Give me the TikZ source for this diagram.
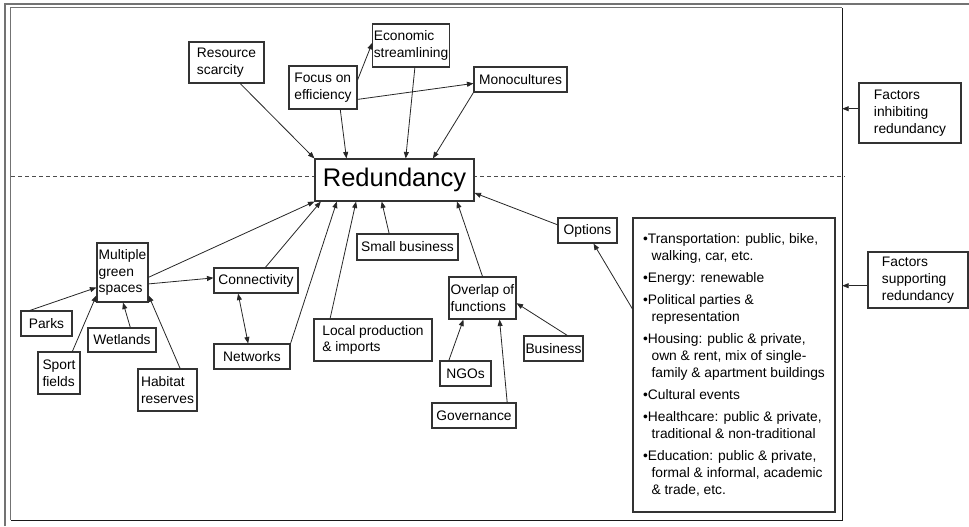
\documentclass[tikz,border=0pt]{standalone}
\usepackage{fontspec}
\setmainfont{Liberation Sans}
\usetikzlibrary{arrows.meta,calc}
\newcommand\listindent{\hspace*{8.5pt}}
\begin{document}
\begin{tikzpicture}[x=1pt,y=-1pt,
  font=\fontsize{13.8}{16.7}\selectfont,
  box/.style 2 args={draw=black!80, line width=1.1pt, fill=white,
    minimum width=#1pt, minimum height=#2pt, inner sep=1pt, align=left},
  arr/.style={draw=black!85, line width=0.8pt,
    -{Triangle[length=6.5pt,width=5pt]}},
  dbl/.style={draw=black!85, line width=0.8pt,
    {Triangle[length=6.5pt,width=5pt]}-{Triangle[length=6.5pt,width=5pt]}},
  litedge/.style={draw=black!55, line width=1.3pt},
  darkedge/.style={draw=black!90, line width=1.2pt},
  divider/.style={draw=black!70, line width=0.8pt, dash pattern=on 4pt off 3pt}
]
\useasboundingbox (0,0) rectangle (969,527);

% outer page edge
\draw[litedge] (5,526) -- (5,4) -- (969,4);

% main frame
\node[draw=none, minimum width=831pt, minimum height=512pt, inner sep=0pt] (frame) at (426.5,264) {};
\draw[litedge] (frame.south west) -- (frame.north west) -- (frame.north east);
\draw[darkedge] (frame.north east) -- (frame.south east) -- (frame.south west);

% boundary between inhibiting and supporting factors
\coordinate (divL) at (11,176);
\coordinate (divR) at (845,176);
\draw[divider] (divL) -- (divR);

% central concept
\node[box={159}{42}, font=\fontsize{25.5}{28}\selectfont, align=center] (red) at (394.5,180) {Redundancy};

% inhibiting factors
\node[box={75}{41}] (res) at (226.5,62.5) {Resource\\scarcity};
\node[box={76}{43}] (econ) at (411,45.5) {Economic\\streamlining};
\node[box={68}{43}] (focus) at (323,87.5) {Focus on\\efficiency};
\node[box={93}{25}] (mono) at (520.5,79.5) {Monocultures};

% supporting factors
\node[box={51}{59}] (green) at (122.5,272.5) {Multiple\\green\\spaces};
\node[box={51}{25}] (parks) at (46.5,323.5) {Parks};
\node[box={42}{42}] (sport) at (59,373) {Sport\\fields};
\node[box={68}{24}] (wet) at (122,340) {Wetlands};
\node[box={59}{42}] (hab) at (167.5,390) {Habitat\\reserves};
\node[box={84}{25}] (conn) at (256,280.5) {Connectivity};
\node[box={76}{25}] (net) at (252,356.5) {Networks};
\node[box={118}{42}] (local) at (373,340) {Local production\\\& imports};
\node[box={101}{26}] (small) at (407.5,247) {Small business};
\node[box={67}{42}] (overlap) at (482.5,298) {Overlap of\\functions};
\node[box={51}{25}] (ngo) at (465.5,373.5) {NGOs};
\node[box={84}{25}] (gov) at (474,415.5) {Governance};
\node[box={59}{25}] (bus) at (553.5,348.5) {Business};
\node[box={59}{25}] (opt) at (587.5,230.5) {Options};
\node[box={202}{294}, font=\fontsize{13.8}{17}\selectfont] (list) at (734,365) {%
•Transportation: public, bike,\\
\listindent walking, car, etc.\\[5pt]
•Energy: renewable\\[5pt]
•Political parties \&\\
\listindent representation\\[5pt]
•Housing: public \& private,\\
\listindent own \& rent, mix of single-\\
\listindent family \& apartment buildings\\[5pt]
•Cultural events\\[5pt]
•Healthcare: public \& private,\\
\listindent traditional \& non-traditional\\[5pt]
•Education: public \& private,\\
\listindent formal \& informal, academic\\
\listindent \& trade, etc.};

% legend boxes
\node[box={102}{60}] (inhib) at (910,113) {Factors\\inhibiting\\redundancy};
\node[box={100}{56}] (supp) at (918,280) {Factors\\supporting\\redundancy};

% connectors above the divider
\draw[arr] ($(res.south west)!0.68!(res.south east)$) -- (red.north west);
\draw[arr] ($(focus.south west)!0.75!(focus.south east)$) -- ($(red.north west)!0.2!(red.north east)$);
\draw[arr] ($(focus.north east)!0.33!(focus.south east)$) -- ($(econ.north west)!0.44!(econ.south west)$);
\draw[arr] ($(focus.north east)!0.77!(focus.south east)$) -- ($(mono.north west)!0.65!(mono.south west)$);
\draw[arr] ($(econ.south west)!0.55!(econ.south east)$) -- ($(red.north west)!0.57!(red.north east)$);
\draw[arr] (mono.south west) -- ($(red.north west)!0.74!(red.north east)$);

% connectors below the divider
\draw[arr] ($(opt.north west)!0.28!(opt.south west)$) -- ($(red.north east)!0.8!(red.south east)$);
\draw[arr] ($(list.north west)!0.31!(list.south west)$) -- ($(opt.south west)!0.6!(opt.south east)$);
\draw[arr] (overlap.north) -- ($(red.south west)!0.89!(red.south east)$);
\draw[arr] ($(small.north west)!0.32!(small.north east)$) -- ($(red.south west)!0.42!(red.south east)$);
\draw[arr] ($(local.north west)!0.14!(local.north east)$) -- ($(red.south west)!0.26!(red.south east)$);
\draw[arr] (net.north east) -- ($(red.south west)!0.14!(red.south east)$);
\draw[arr] ($(conn.north west)!0.61!(conn.north east)$) -- ($(red.south west)!0.04!(red.south east)$);
\draw[arr] ($(green.north east)!0.58!(green.south east)$) -- (red.south west);
\draw[arr] ($(green.north east)!0.69!(green.south east)$) -- ($(conn.north west)!0.4!(conn.south west)$);
\draw[dbl] ($(conn.south west)!0.29!(conn.south east)$) -- ($(net.north west)!0.45!(net.north east)$);
\draw[arr] ($(parks.north west)!0.18!(parks.north east)$) -- ($(green.north west)!0.75!(green.south west)$);
\draw[arr] ($(sport.north west)!0.81!(sport.north east)$) -- ($(green.north west)!0.88!(green.south west)$);
\draw[arr] ($(wet.north west)!0.62!(wet.north east)$) -- ($(green.south west)!0.51!(green.south east)$);
\draw[arr] ($(hab.north west)!0.71!(hab.north east)$) -- ($(green.north east)!0.88!(green.south east)$);
\draw[arr] ($(ngo.north west)!0.18!(ngo.north east)$) -- ($(overlap.south west)!0.22!(overlap.south east)$);
\draw[arr] ($(gov.north west)!0.89!(gov.north east)$) -- ($(overlap.south west)!0.75!(overlap.south east)$);
\draw[arr] ($(bus.north west)!0.73!(bus.north east)$) -- ($(overlap.north east)!0.62!(overlap.south east)$);

% legend pointers onto the frame
\coordinate (inhibTip) at ($(inhib.north west)!0.43!(inhib.south west)$);
\coordinate (suppTip) at ($(supp.north west)!0.6!(supp.south west)$);
\draw[arr] (inhibTip) -- (inhibTip -| frame.east);
\draw[arr] (suppTip) -- (suppTip -| frame.east);
\end{tikzpicture}
\end{document}
